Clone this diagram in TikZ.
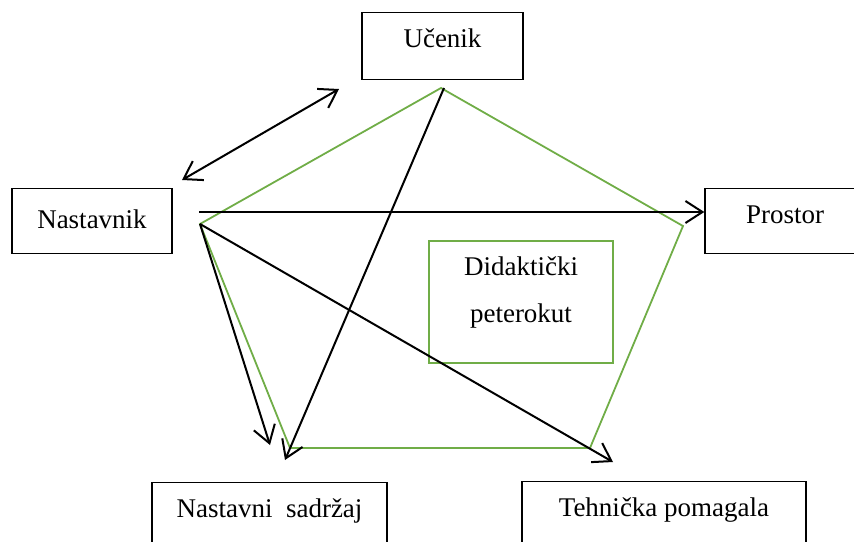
\documentclass[tikz,border=0pt]{standalone}
\usepackage{fontspec}
\setmainfont{Liberation Serif}
\usetikzlibrary{arrows.meta, positioning}
\definecolor{pentagreen}{HTML}{70AD47}

\begin{document}
\begin{tikzpicture}[x=1pt, y=-1pt]

\tikzset{box/.style = {draw, line width=1.4pt, anchor=north, inner sep=0pt, text height=35pt, font=\fontsize{27}{47}\selectfont}}
\tikzset{edge/.style = {line width=2pt, > = {Straight Barb[length=17pt,width=22pt]}}}
\tikzset{penta/.style = {draw=pentagreen, line width=1.8pt}}
\useasboundingbox (0,0) rectangle (854,541);
% boxes
\node[box, minimum width=161pt, text depth=32pt] (ucenik) at (442.5,12) {Učenik};
\node[box, minimum width=160pt, text height=40pt, text depth=25pt] (nastavnik) at (92,188) {Nastavnik};
\node[box, minimum width=160pt, text depth=30pt] (prostor) at (785,188) {Prostor};
\node[box, minimum width=235pt, text depth=45pt] (sadrzaj) at (269.5,482) {Nastavni\ \ sadržaj};
\node[box, minimum width=284pt, text depth=45pt] (pomagala) at (664,481) {Tehnička pomagala};
\node[box, penta, minimum width=184pt, text height=82pt, text depth=40pt, align=center] (peterokut) at (521,240) {Didaktički\\peterokut};
% pentagon
\coordinate (p1) at (441,88);
\coordinate (p2) at (683,226);
\coordinate (p3) at (590,448);
\coordinate (p4) at (290,448);
\coordinate (p5) at (200,224);
\draw[penta] (p1) -- (p2) -- (p3) -- (p4) -- (p5) -- cycle;
% arrow ends
\coordinate (a1) at (182,180);
\coordinate (a2) at (339,89);
\coordinate (h) at (199,212);
\coordinate (u) at (444,88);
\coordinate (s1) at (270,445);
\coordinate (s2) at (285,460);
\coordinate (t1) at (613,462);
% edges
\draw [edge, <->] (a1) -- (a2);
\draw [edge, ->] (h) -- (h -| prostor.west);
\draw [edge, ->] (p5) -- (s1);
\draw [edge, ->] (u) -- (s2);
\draw [edge, ->] (p5) -- (t1);
\end{tikzpicture}
\end{document}
